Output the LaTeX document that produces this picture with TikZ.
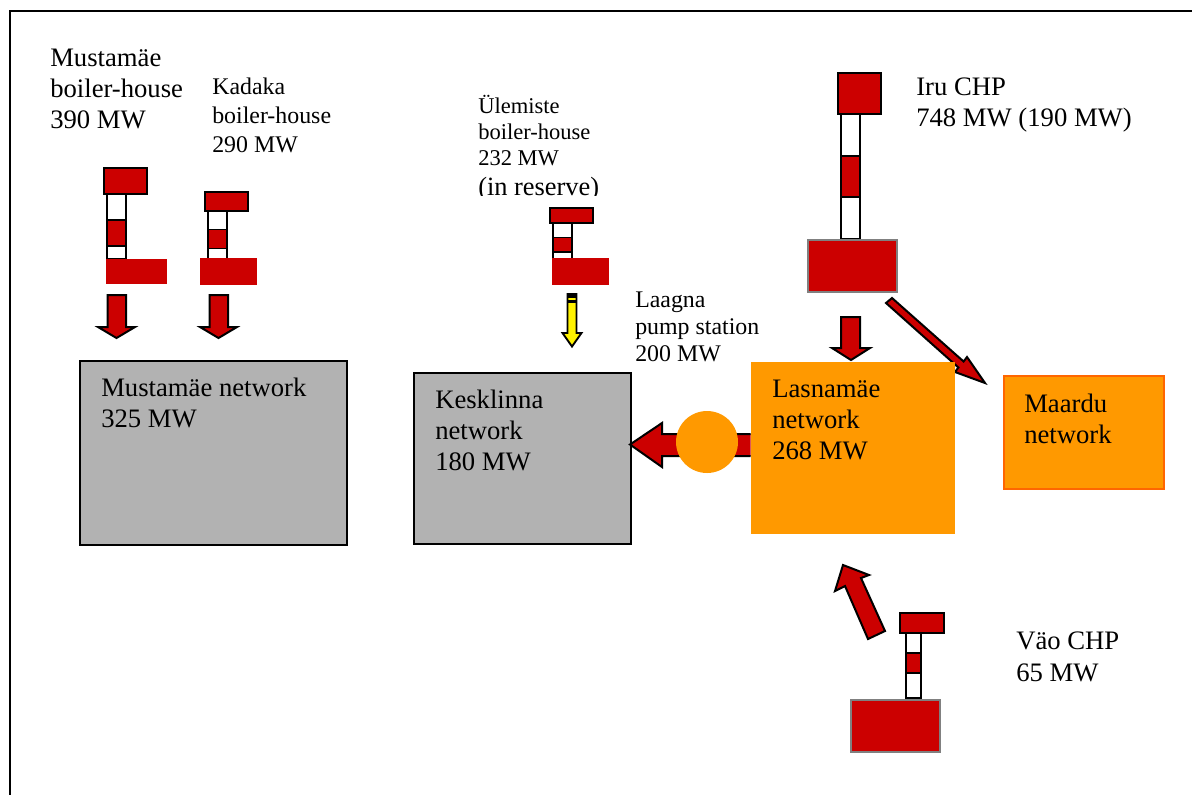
\documentclass[tikz,border=0pt]{standalone}
\usepackage{fontspec}
\setmainfont{Liberation Serif}
\definecolor{plantred}{HTML}{CC0000}
\definecolor{netgray}{HTML}{B2B2B2}
\definecolor{netorange}{HTML}{FF9900}
\definecolor{edgeorange}{HTML}{FF6600}
\tikzset{
  x=0.75pt,y=-0.75pt,
  capbox/.style={fill=plantred,draw=black,line width=1.9pt},
  stackbox/.style={fill=white,draw=black,line width=1.4pt},
  bandbox/.style={fill=plantred,draw=black,line width=1.4pt},
  basebox/.style={fill=plantred,draw=none},
  baseedge/.style={fill=plantred,draw=gray,line width=1.5pt},
  blockarrow/.style={fill=plantred,draw=black,line width=1.5pt,line join=miter},
  netbase/.style={anchor=north west,inner sep=0pt,outer sep=0pt},
  netbox/.style={netbase,fill=netgray,draw=black,line width=1.5pt},
  big/.style={font=\fontsize{20pt}{23.3pt}\selectfont,align=left,anchor=north west,inner sep=0pt},
  mid/.style={font=\fontsize{17.9pt}{21.7pt}\selectfont,align=left,anchor=north west,inner sep=0pt},
  pumptext/.style={font=\fontsize{17.9pt}{20.3pt}\selectfont,align=left,anchor=north west,inner sep=0pt},
  small/.style={font=\fontsize{16.9pt}{19.6pt}\selectfont,align=left,anchor=north west,inner sep=0pt},
}
\begin{document}
\begin{tikzpicture}
\useasboundingbox (0,0) rectangle (1192,794);
\begin{scope}
\clip (0,0) rectangle (1192,794);
\draw[line width=1.5pt] (9.5,800) -- (9.5,10.5) -- (1200,10.5);
\end{scope}

% Mustamae plant
\draw[stackbox] (107,194) rectangle (126,259);
\draw[bandbox] (107,220) rectangle (126,246);
\draw[capbox] (104,168) rectangle (147,194);
\fill[basebox] (106,259) rectangle (167,284);
\draw[blockarrow] (107.5,295) -- (126,295) -- (126,327) -- (135,327) -- (116.5,338) -- (98,327) -- (107.5,327) -- cycle;

% Kadaka plant
\draw[stackbox] (208,211) rectangle (227,259);
\draw[bandbox] (208,229.5) rectangle (227,248.5);
\draw[capbox] (205,192) rectangle (248,211);
\fill[basebox] (200,258) rectangle (257,285);
\draw[blockarrow] (209.5,295) -- (228,295) -- (228,327) -- (237,327) -- (218.5,338) -- (200,327) -- (209.5,327) -- cycle;

% Ulemiste plant
\draw[stackbox] (553,223) rectangle (572,259);
\draw[bandbox] (553,237.5) rectangle (572,252);
\draw[capbox] (550,208) rectangle (593,223);
\fill[basebox] (552,258) rectangle (609,285);
\draw[fill=yellow,draw=black,line width=1.4pt] (567.5,294) -- (576.5,294) -- (576.5,333) -- (581.5,333) -- (572,346.5) -- (562.5,333) -- (567.5,333) -- cycle;
\fill[black] (567,293) rectangle (577,298);
\fill[black] (567,300) rectangle (577,303);

% Iru plant
\draw[stackbox] (841,114) rectangle (860,239);
\draw[bandbox] (841,156) rectangle (860,197);
\draw[capbox] (838,73) rectangle (881,114);
\draw[baseedge] (807.5,239.5) rectangle (897,292);
\draw[blockarrow] (841,317) -- (860,317) -- (860,348) -- (870,348) -- (851,360) -- (832,348) -- (841,348) -- cycle;
\draw[blockarrow] (886,303) -- (892,298) -- (963.6,361.5) -- (967,357) -- (985,383) -- (955,372) -- (958.4,367.5) -- cycle;

% Vao plant
\draw[stackbox] (906,633) rectangle (921,698);
\draw[bandbox] (906,653) rectangle (921,673);
\draw[capbox] (900,613) rectangle (944,633);
\draw[baseedge] (850.5,699.5) rectangle (939.5,752);
\draw[blockarrow] (868,639) -- (885,631) -- (861,578) -- (869,575) -- (843,565) -- (835,591) -- (845,586) -- cycle;

% Networks
\node[netbox,minimum width=200.25pt,minimum height=138pt] (mustnet) at (79.5,360.5) {};
\node[netbox,minimum width=162.75pt,minimum height=128.25pt] (keskl) at (413.5,372.5) {};
\node[netbase,fill=netorange,minimum width=153pt,minimum height=129pt] (lasna) at (750.5,362) {};
\node[netbase,fill=netorange,draw=edgeorange,line width=0.9pt,minimum width=120pt,minimum height=84.75pt] (maardu) at (1004,376) {};

% Transfer arrow with pump
\draw[blockarrow] (lasna.west |- 0,434) -- (662,434) -- (662,423) -- (630,444.5) -- (662,467) -- (662,456) -- (lasna.west |- 0,456);
\node[circle,fill=netorange,minimum size=46.5pt,inner sep=0pt] (pump) at (707,442) {};

% Labels
\node[big] (t1) at (50,49) {Mustamäe\\boiler-house\\390 MW};
\node[mid] (t2) at (212,78) {Kadaka\\boiler-house\\290 MW};
\begin{scope}
\clip (470,80) rectangle (620,195);
\node[small] (t3) at (478,95) {Ülemiste\\boiler-house\\232 MW\\[3pt]{\fontsize{19.8pt}{23pt}\selectfont (in reserve)}};
\end{scope}
\node[pumptext] (t4) at (635,291.5) {Laagna\\pump station\\200 MW};
\node[big] (t5) at (916,78) {Iru CHP\\748 MW (190 MW)};
\node[big] (t6) at (101,378) {Mustamäe network\\325 MW};
\node[big] (t7) at (435,390) {Kesklinna\\network\\180 MW};
\node[big] (t8) at (772,380) {Lasnamäe\\network\\268 MW};
\node[big] (t9) at (1024,394) {Maardu\\network};
\node[big] (t10) at (1016,632) {Väo CHP\\65 MW};
\end{tikzpicture}
\end{document}
